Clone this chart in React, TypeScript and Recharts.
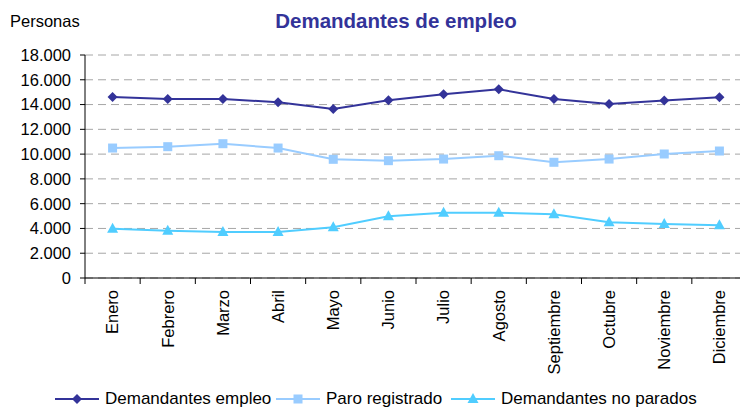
import { CartesianGrid, Line, LineChart, XAxis, YAxis } from "recharts";

const MONTHS = ["Enero", "Febrero", "Marzo", "Abril", "Mayo", "Junio", "Julio", "Agosto", "Septiembre", "Octubre", "Noviembre", "Diciembre"];
const DEMANDANTES = [14600, 14450, 14450, 14180, 13650, 14340, 14830, 15230, 14450, 14050, 14320, 14590];
const PARO = [10490, 10600, 10840, 10490, 9580, 9470, 9600, 9870, 9340, 9600, 10010, 10250];
const NO_PARADOS = [3980, 3820, 3710, 3710, 4090, 4980, 5270, 5270, 5140, 4500, 4360, 4250];
const Y_TICKS = [0, 2000, 4000, 6000, 8000, 10000, 12000, 14000, 16000, 18000];

const FONT = "'Liberation Sans', Arial, sans-serif";
const C1 = "#333399";
const C2 = "#99CCFF";
const C3 = "#50CDFF";

const CHART_W = 760;
const AXIS_W = 85;
const RIGHT = 13;
const BAND = (CHART_W - AXIS_W - RIGHT) / MONTHS.length;

const data = MONTHS.map((m, i) => ({
  month: m,
  demandantes: DEMANDANTES[i],
  paro: PARO[i],
  noParados: NO_PARADOS[i],
}));

const fmt = (v: number) => v.toLocaleString("de-DE");

const diamond = (cx: number, cy: number, color: string, key?: string) => (
  <polygon key={key} points={`${cx},${cy - 5} ${cx + 5},${cy} ${cx},${cy + 5} ${cx - 5},${cy}`} fill={color} />
);
const square = (cx: number, cy: number, color: string, key?: string) => (
  <rect key={key} x={cx - 4.5} y={cy - 4.5} width={9} height={9} fill={color} />
);
const triangle = (cx: number, cy: number, color: string, key?: string) => (
  <polygon key={key} points={`${cx},${cy - 6} ${cx + 5.5},${cy + 4} ${cx - 5.5},${cy + 4}`} fill={color} />
);

function MonthTick({ x, y, payload }: any) {
  return (
    <g>
      <line x1={x - BAND / 2} x2={x - BAND / 2} y1={y} y2={y + 6} stroke="#000" />
      <text
        x={0}
        y={0}
        transform={`translate(${x},${y + 12}) rotate(-90)`}
        textAnchor="end"
        dy="0.35em"
        fontSize={16.5}
        fontFamily={FONT}
        fill="#000"
      >
        {payload.value}
      </text>
    </g>
  );
}

const LEGEND = [
  { label: "Demandantes empleo", color: C1, marker: diamond, x: 55 },
  { label: "Paro registrado", color: C2, marker: square, x: 276 },
  { label: "Demandantes no parados", color: C3, marker: triangle, x: 451 },
];

export default function App() {
  return (
    <div style={{ position: "absolute", left: 0, top: 0, width: 740, height: 408, overflow: "hidden", background: "#fff" }}>
      <LineChart width={CHART_W} height={408} data={data} margin={{ top: 55, right: RIGHT, left: 0, bottom: 30 }}>
        <CartesianGrid vertical={false} stroke="#a6a6a6" strokeDasharray="8 5" />
        <XAxis
          dataKey="month"
          height={100}
          interval={0}
          padding={{ left: BAND / 2, right: BAND / 2 }}
          tickLine={false}
          tickSize={0}
          tickMargin={0}
          axisLine={{ stroke: "#000" }}
          tick={<MonthTick />}
        />
        <YAxis
          width={AXIS_W}
          domain={[0, 18000]}
          ticks={Y_TICKS}
          interval={0}
          tickFormatter={fmt}
          tickSize={5}
          tickMargin={9}
          axisLine={{ stroke: "#000" }}
          tickLine={{ stroke: "#000" }}
          tick={{ fill: "#000", fontSize: 16.5, fontFamily: FONT }}
        />
        <Line
          dataKey="demandantes"
          stroke={C1}
          strokeWidth={2}
          isAnimationActive={false}
          dot={(p: any) => diamond(p.cx, p.cy, C1, `d1-${p.index}`)}
        />
        <Line
          dataKey="paro"
          stroke={C2}
          strokeWidth={2}
          isAnimationActive={false}
          dot={(p: any) => square(p.cx, p.cy, C2, `d2-${p.index}`)}
        />
        <Line
          dataKey="noParados"
          stroke={C3}
          strokeWidth={2}
          isAnimationActive={false}
          dot={(p: any) => triangle(p.cx, p.cy, C3, `d3-${p.index}`)}
        />
      </LineChart>
      <svg width={740} height={408} style={{ position: "absolute", left: 0, top: 0, pointerEvents: "none" }}>
        <text x={10} y={27} fontSize={16.5} fontFamily={FONT} fill="#000">
          Personas
        </text>
        <text x={396} y={28} textAnchor="middle" fontSize={20.5} fontWeight="bold" fontFamily={FONT} fill={C1}>
          Demandantes de empleo
        </text>
        {LEGEND.map((it) => (
          <g key={it.label}>
            <line x1={it.x} x2={it.x + 44} y1={399} y2={399} stroke={it.color} strokeWidth={2} />
            {it.marker(it.x + 22, 399, it.color)}
            <text x={it.x + 50} y={404} fontSize={17} fontFamily={FONT} fill="#000">
              {it.label}
            </text>
          </g>
        ))}
      </svg>
    </div>
  );
}
